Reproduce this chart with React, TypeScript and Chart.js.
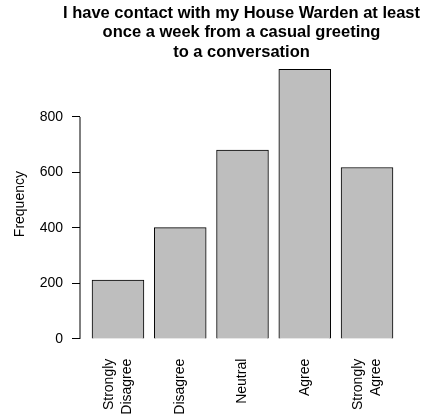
import React, { useEffect, useRef } from "react";
import { Chart, registerables } from "chart.js";

Chart.register(...registerables);

const categories = ["Strongly Disagree", "Disagree", "Neutral", "Agree", "Strongly Agree"];
const frequencies = [212, 401, 681, 972, 618];
const yTicks = [0, 200, 400, 600, 800];
const titleLines = [
  "I have contact with my House Warden at least",
  "once a week from a casual greeting",
  "to a conversation",
];
const yTitle = "Frequency";

const FONT = "'Liberation Sans', Arial, Helvetica, sans-serif";
const LABEL_LH = 18;
const TITLE_LH = 19.5;

export default function App() {
  const ref = useRef<HTMLCanvasElement | null>(null);

  useEffect(() => {
    document.body.style.margin = "0";
    const canvas = ref.current;
    if (!canvas) return;

    // R barplot geometry: width 1, space 0.2
    const centers = categories.map((_, i) => 0.7 + 1.2 * i);
    const xLo = 0.2, xHi = 1.2 * categories.length;
    const xPad = (xHi - xLo) * 0.04;
    const yMaxData = Math.max(...frequencies);
    const yPad = yMaxData * 0.04;
    const lines = categories.map((c) => c.split(" "));

    const rAxis = {
      id: "rAxis",
      afterDraw(chart: any) {
        const { ctx, chartArea, scales } = chart;
        const y = scales.y;
        const x = chartArea.left;
        ctx.save();
        ctx.strokeStyle = "#000";
        ctx.lineWidth = 1;
        ctx.beginPath();
        ctx.moveTo(x, y.getPixelForValue(yTicks[0]));
        ctx.lineTo(x, y.getPixelForValue(yTicks[yTicks.length - 1]));
        ctx.stroke();
        // main title, centred over the plot region like R's title()
        ctx.fillStyle = "#000";
        ctx.font = `bold 16.5px ${FONT}`;
        ctx.textAlign = "center";
        ctx.textBaseline = "middle";
        const cx = (chartArea.left + chartArea.right) / 2 - 1;
        titleLines.forEach((t, i) => {
          ctx.fillText(t, cx, 13 + i * TITLE_LH);
        });
        ctx.restore();
      },
    };

    const chart = new Chart(canvas, {
      type: "bar",
      data: {
        datasets: [
          {
            data: frequencies.map((v, i) => ({ x: centers[i], y: v })),
            backgroundColor: "#bebebe",
            borderColor: "#000",
            borderWidth: 1,
            barThickness: "flex",
            categoryPercentage: 1,
            barPercentage: 1 / 1.2,
          },
        ],
      },
      options: {
        responsive: false,
        animation: false,
        events: [],
        layout: { padding: { left: 0, right: 17, top: 58.5, bottom: 0 } },
        plugins: {
          legend: { display: false },
          tooltip: { enabled: false },
          title: { display: false },
        },
        scales: {
          x: {
            type: "linear",
            offset: false,
            min: xLo - xPad,
            max: xHi + xPad,
            grid: { display: false, drawTicks: false },
            border: { display: false },
            afterBuildTicks: (scale: any) => {
              const ppu = scale.width / (scale.max - scale.min) || 1;
              scale.ticks = centers.map((c, i) => ({
                value: c - ((lines[i].length - 1) * LABEL_LH) / 2 / ppu,
              }));
            },
            afterFit: (scale: any) => {
              scale.height = 70.3;
            },
            ticks: {
              autoSkip: false,
              maxRotation: 90,
              minRotation: 90,
              padding: 9,
              color: "#000",
              font: { family: FONT, size: 14, lineHeight: LABEL_LH / 14 },
              callback: (_v: any, i: number) => lines[i],
            },
          },
          y: {
            type: "linear",
            min: -yPad,
            max: yMaxData + yPad,
            border: { display: false },
            grid: {
              display: true,
              drawOnChartArea: false,
              drawTicks: true,
              tickLength: 8,
              color: "#000",
            },
            afterBuildTicks: (scale: any) => {
              scale.ticks = yTicks.map((v) => ({ value: v }));
            },
            afterFit: (scale: any) => {
              scale.width = 80;
            },
            ticks: {
              padding: 9,
              color: "#000",
              font: { family: FONT, size: 14 },
              callback: (v: any) => String(v),
            },
            title: {
              display: true,
              text: yTitle,
              color: "#000",
              font: { family: FONT, size: 14 },
              padding: { top: 11.6, bottom: 0 },
            },
          },
        },
      },
      plugins: [rAxis],
    });

    return () => chart.destroy();
  }, []);

  return <canvas ref={ref} width={422} height={420} style={{ display: "block" }} />;
}
